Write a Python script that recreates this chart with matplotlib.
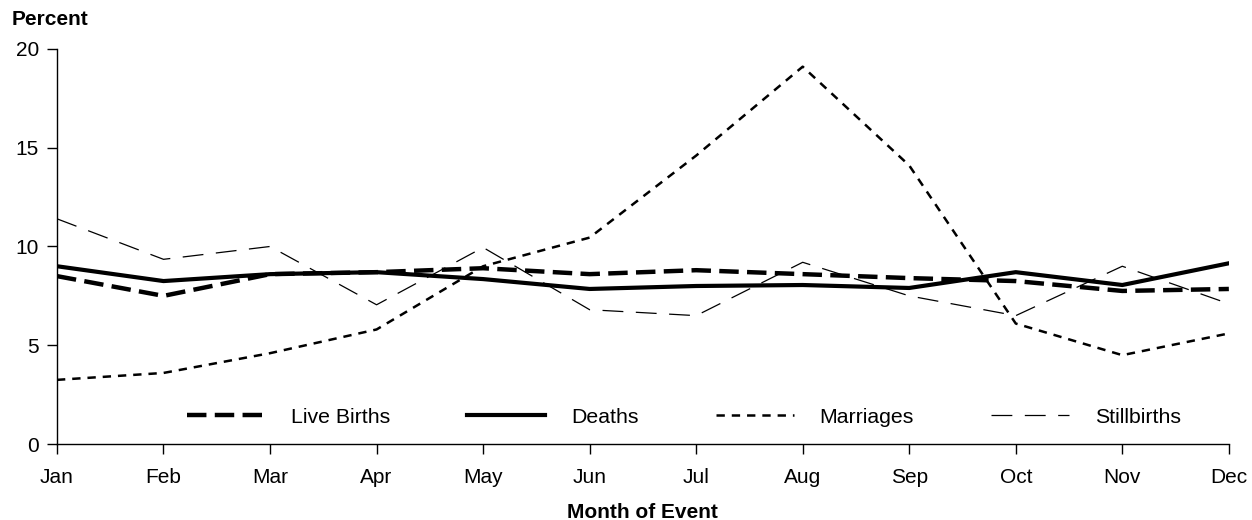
import matplotlib
matplotlib.use("Agg")
import matplotlib.pyplot as plt

# -----------------------------
# Datos (porcentaje por mes)
# -----------------------------
meses = ["Jan", "Feb", "Mar", "Apr", "May", "Jun",
         "Jul", "Aug", "Sep", "Oct", "Nov", "Dec"]
live_births = [8.5, 7.5, 8.6, 8.7, 8.9, 8.6, 8.8, 8.6, 8.4, 8.25, 7.75, 7.85]
deaths = [9.0, 8.25, 8.6, 8.7, 8.35, 7.85, 8.0, 8.05, 7.9, 8.7, 8.05, 9.15]
marriages = [3.25, 3.6, 4.6, 5.8, 9.0, 10.45, 14.6, 19.1, 14.1, 6.1, 4.5, 5.6]
stillbirths = [11.4, 9.35, 10.0, 7.05, 9.95, 6.8, 6.5, 9.2, 7.5, 6.5, 9.0, 7.1]

plt.rcParams['font.family'] = ['Liberation Sans', 'DejaVu Sans']
plt.rcParams['lines.scale_dashes'] = False

fig = plt.figure(figsize=(12.52, 5.2), dpi=100)
ax = fig.add_axes([0.0455, 0.146, 0.936, 0.760])

x = list(range(len(meses)))
ax.plot(x, live_births, color="black", lw=3.2, dashes=(14, 6), label="Live Births")
ax.plot(x, deaths, color="black", lw=3.0, label="Deaths")
ax.plot(x, marriages, color="black", lw=1.8, dashes=(6, 5), label="Marriages")
ax.plot(x, stillbirths, color="black", lw=0.9, dashes=(15, 9), label="Stillbirths")

ax.set_xlim(0, 11)
ax.set_ylim(0, 20)
ax.set_xticks(x)
ax.set_xticklabels(meses)
ax.set_yticks([0, 5, 10, 15, 20])
ax.tick_params(axis="x", direction="out", length=7, width=1, labelsize=15, pad=10)
ax.tick_params(axis="y", direction="out", length=7, width=1, labelsize=15, pad=6)
for lado in ["top", "right"]:
    ax.spines[lado].set_visible(False)
ax.spines["left"].set_linewidth(1)
ax.spines["bottom"].set_linewidth(1)

ax.set_xlabel("Month of Event", fontsize=15, fontweight="bold", labelpad=12)
fig.text(0.009, 0.963, "Percent", fontsize=15, fontweight="bold", va="center")

ax.legend(loc="lower center", bbox_to_anchor=(0.535, -0.005), ncol=4, frameon=False,
          fontsize=15.3, handlelength=3.67, handletextpad=1.22, columnspacing=3.62)

fig.savefig("out.png", dpi=100)
